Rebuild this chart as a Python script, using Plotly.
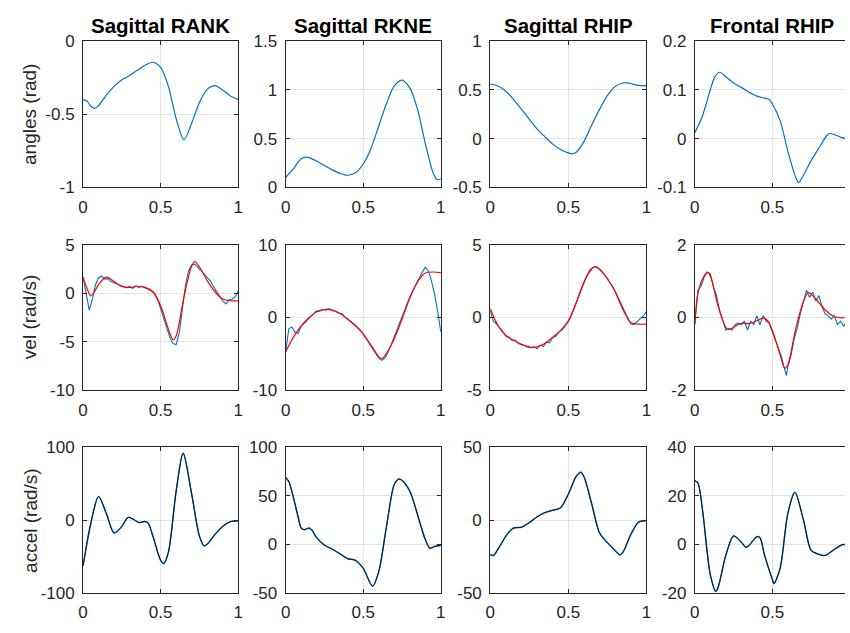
import plotly.graph_objects as go

W, H = 850, 633
BLUE = "#0072BD"
RED = "#FF0000"
INK = "#262626"
GRID = "#e3e3e3"
FONT = "Liberation Sans, Arial, Helvetica, sans-serif"

titles = ["Sagittal RANK", "Sagittal RKNE", "Sagittal RHIP", "Frontal RHIP"]
row_labels = ["angles (rad)", "vel (rad/s)", "accel (rad/s)"]

# ---------------- Row 1: angles ----------------
ank_ang_x = [0, 0.025, 0.05, 0.075, 0.1, 0.15, 0.2, 0.25, 0.3, 0.35, 0.4, 0.45, 0.5, 0.55, 0.6, 0.65, 0.7, 0.75, 0.8, 0.85, 0.9, 0.95, 1.0]
ank_ang_y = [-0.40, -0.41, -0.445, -0.46, -0.44, -0.37, -0.31, -0.265, -0.235, -0.20, -0.165, -0.145, -0.18, -0.31, -0.53, -0.675, -0.56, -0.42, -0.33, -0.305, -0.335, -0.375, -0.40]

kne_ang_x = [0, 0.025, 0.05, 0.075, 0.1, 0.13, 0.15, 0.2, 0.25, 0.3, 0.35, 0.4, 0.45, 0.5, 0.55, 0.6, 0.65, 0.7, 0.75, 0.8, 0.85, 0.9, 0.95, 0.975, 1.0]
kne_ang_y = [0.10, 0.15, 0.19, 0.25, 0.295, 0.31, 0.305, 0.27, 0.225, 0.18, 0.145, 0.125, 0.15, 0.24, 0.40, 0.63, 0.86, 1.04, 1.10, 1.02, 0.80, 0.45, 0.15, 0.08, 0.09]

hip_ang_x = [0, 0.05, 0.1, 0.15, 0.2, 0.25, 0.3, 0.35, 0.4, 0.45, 0.5, 0.53, 0.55, 0.6, 0.65, 0.7, 0.75, 0.8, 0.85, 0.88, 0.9, 0.95, 1.0]
hip_ang_y = [0.56, 0.54, 0.485, 0.40, 0.30, 0.20, 0.10, 0.02, -0.056, -0.11, -0.146, -0.155, -0.14, -0.03, 0.14, 0.30, 0.44, 0.535, 0.57, 0.572, 0.565, 0.545, 0.54]

fhip_ang_x = [0, 0.05, 0.1, 0.13, 0.16, 0.2, 0.25, 0.3, 0.35, 0.4, 0.45, 0.48, 0.5, 0.55, 0.6, 0.65, 0.67, 0.7, 0.75, 0.8, 0.85, 0.87, 0.9, 0.95, 0.97]
fhip_ang_y = [0.012, 0.047, 0.10, 0.127, 0.136, 0.127, 0.114, 0.105, 0.095, 0.087, 0.083, 0.08, 0.071, 0.037, -0.026, -0.079, -0.09, -0.075, -0.045, -0.019, 0.006, 0.011, 0.008, 0.002, 0.0]

# ---------------- Row 2: velocities ----------------
vel_x = [i / 50 for i in range(51)]

ank_vel_raw = [1.66, -0.2, -1.75, -0.6, 0.9, 1.6, 1.75, 1.45, 1.5, 1.2, 1.1, 0.95, 0.8, 0.7, 0.55, 0.7, 0.5, 0.75, 0.6, 0.7,
               0.55, 0.45, 0.25, 0.0, -0.6, -1.6, -2.6, -3.7, -4.6, -5.2, -5.3, -4.1, -1.6, 0.8, 2.3, 2.9, 3.0, 2.7, 2.4, 2.0,
               1.6, 1.3, 0.7, 0.2, -0.3, -0.8, -1.1, -0.7, -0.6, -0.4, 0.25]
ank_vel_fit_x = [0, 0.025, 0.05, 0.075, 0.1, 0.15, 0.2, 0.25, 0.3, 0.35, 0.4, 0.45, 0.5, 0.55, 0.58, 0.6, 0.65, 0.7, 0.72, 0.75, 0.8, 0.85, 0.9, 0.95, 1.0]
ank_vel_fit_y = [1.66, 0.5, -0.28, 0.2, 0.9, 1.66, 1.2, 0.7, 0.6, 0.72, 0.6, 0.15, -1.3, -3.7, -4.8, -4.4, -0.4, 2.8, 3.25, 2.7, 1.3, 0.15, -0.6, -0.78, -0.78]

kne_vel_raw = [-4.7, -1.6, -1.3, -2.0, -2.2, -1.2, -0.8, -0.3, 0.1, 0.5, 0.9, 0.85, 1.1, 1.0, 1.2, 0.95, 0.85, 0.6, 0.55, 0.1,
               -0.2, -0.5, -0.9, -1.3, -1.7, -2.3, -2.9, -3.6, -4.3, -5.0, -5.6, -5.9, -5.6, -4.8, -3.7, -2.8, -1.7, -0.5, 0.6, 1.7,
               2.8, 3.7, 4.6, 5.4, 6.2, 6.9, 6.4, 5.0, 3.2, 0.8, -2.0]
kne_vel_fit_x = [0, 0.05, 0.1, 0.15, 0.2, 0.25, 0.3, 0.35, 0.4, 0.45, 0.5, 0.55, 0.6, 0.62, 0.65, 0.7, 0.75, 0.8, 0.85, 0.9, 0.95, 1.0]
kne_vel_fit_y = [-4.7, -2.7, -1.15, -0.05, 0.78, 1.09, 1.0, 0.55, -0.24, -1.14, -2.25, -3.8, -5.37, -5.68, -4.92, -2.92, -0.24, 2.65, 4.88, 6.1, 6.25, 6.15]

hip_vel_raw = [0.45, -0.25, -0.45, -0.7, -0.95, -1.3, -1.35, -1.6, -1.55, -1.8, -1.85, -1.95, -2.05, -2.1, -2.0, -2.15, -1.9, -2.0, -1.7, -1.75,
               -1.4, -1.3, -1.0, -0.85, -0.6, -0.3, 0.15, 0.7, 1.3, 1.9, 2.45, 2.9, 3.3, 3.45, 3.5, 3.3, 3.1, 2.85, 2.5, 2.2,
               1.8, 1.4, 0.9, 0.45, 0.0, -0.45, -0.5, -0.3, -0.1, 0.1, 0.4]
hip_vel_fit_x = [0, 0.05, 0.1, 0.15, 0.2, 0.25, 0.28, 0.3, 0.35, 0.4, 0.45, 0.5, 0.55, 0.6, 0.65, 0.67, 0.7, 0.75, 0.8, 0.85, 0.9, 0.95, 1.0]
hip_vel_fit_y = [0.61, -0.57, -1.24, -1.57, -1.84, -2.02, -2.06, -2.02, -1.79, -1.35, -0.9, -0.23, 1.0, 2.44, 3.33, 3.49, 3.33, 2.66, 1.77, 0.55, -0.35, -0.46, -0.46]

fhip_vel_raw_x = [0, 0.02, 0.04, 0.06, 0.08, 0.1, 0.12, 0.14, 0.16, 0.18, 0.2, 0.22, 0.24, 0.26, 0.28, 0.3, 0.32, 0.34, 0.36, 0.38,
                  0.4, 0.42, 0.44, 0.46, 0.48, 0.5, 0.52, 0.54, 0.56, 0.58, 0.59, 0.6, 0.62, 0.64, 0.66, 0.68, 0.7, 0.72, 0.74, 0.76,
                  0.78, 0.8, 0.82, 0.84, 0.86, 0.88, 0.9, 0.92, 0.94, 0.96, 0.97]
fhip_vel_raw = [-0.2, 0.75, 0.85, 1.1, 1.25, 1.2, 0.85, 0.6, 0.2, -0.1, -0.35, -0.3, -0.35, -0.2, -0.15, -0.2, -0.1, -0.35, -0.1, -0.2,
                0.05, -0.2, 0.05, -0.1, -0.15, -0.4, -0.6, -0.85, -1.1, -1.45, -1.6, -1.35, -1.05, -0.6, -0.3, 0.1, 0.45, 0.75, 0.55, 0.7,
                0.45, 0.6, 0.3, 0.1, 0.05, -0.05, 0.05, -0.2, -0.1, -0.25, -0.15]
fhip_vel_fit_x = [0, 0.02, 0.05, 0.08, 0.1, 0.15, 0.2, 0.22, 0.25, 0.3, 0.35, 0.4, 0.44, 0.47, 0.5, 0.55, 0.58, 0.6, 0.65, 0.7, 0.73, 0.75, 0.8, 0.85, 0.9, 0.95, 0.97]
fhip_vel_fit_y = [-0.18, 0.66, 1.06, 1.24, 1.15, 0.31, -0.27, -0.33, -0.27, -0.16, -0.17, -0.09, -0.02, -0.09, -0.36, -1.03, -1.40, -1.30, -0.32, 0.44, 0.68, 0.64, 0.41, 0.17, 0.02, -0.01, 0.0]

# ---------------- Row 3: accelerations ----------------
ank_acc_x = [0, 0.05, 0.1, 0.15, 0.2, 0.25, 0.29, 0.33, 0.36, 0.4, 0.42, 0.45, 0.5, 0.52, 0.55, 0.6, 0.645, 0.7, 0.75, 0.78, 0.8, 0.85, 0.9, 0.95, 1.0]
ank_acc_y = [-62.7, -4.2, 32.6, 9.1, -17.5, -8.6, 3.8, 0.5, -3.3, -2.0, -4.2, -21.9, -55.2, -59.6, -44.1, 40.1, 92.0, 35.7, -21.9, -35.3, -33.0, -19.7, -8.6, -2.0, -0.7]

kne_acc_x = [0, 0.02, 0.05, 0.08, 0.1, 0.12, 0.15, 0.17, 0.2, 0.25, 0.3, 0.35, 0.4, 0.45, 0.5, 0.56, 0.6, 0.65, 0.7, 0.73, 0.75, 0.8, 0.866, 0.9, 0.93, 0.96, 1.0]
kne_acc_y = [69.1, 65.0, 48.5, 28.5, 16.9, 15.2, 16.9, 14.5, 6.9, -0.8, -4.8, -9.7, -14.7, -16.4, -24.7, -43.0, -28.0, 18.6, 61.8, 67.4, 66.0, 55.0, 22.0, 5.0, -4.0, -2.0, -1.0]

hip_acc_x = [0, 0.02, 0.05, 0.1, 0.13, 0.15, 0.2, 0.25, 0.3, 0.35, 0.4, 0.45, 0.5, 0.55, 0.58, 0.6, 0.65, 0.7, 0.75, 0.8, 0.83, 0.85, 0.9, 0.95, 1.0]
hip_acc_y = [-23.6, -24.3, -19.8, -11.0, -7.0, -5.4, -4.8, -1.7, 2.3, 5.2, 6.8, 8.5, 17.8, 30.0, 32.9, 30.0, 11.2, -8.7, -15.4, -20.9, -23.8, -22.1, -9.9, -1.4, -0.3]

fhip_acc_x = [0, 0.02, 0.05, 0.08, 0.1, 0.135, 0.15, 0.2, 0.25, 0.3, 0.33, 0.35, 0.4, 0.42, 0.45, 0.5, 0.51, 0.55, 0.6, 0.645, 0.7, 0.75, 0.8, 0.83, 0.85, 0.9, 0.95, 0.97]
fhip_acc_y = [26.3, 25.4, 14.1, -3.2, -12.5, -19.4, -17.8, -4.5, 3.5, 0.9, -1.2, -0.4, 3.2, 2.8, -4.5, -14.5, -16.2, -9.8, 12.8, 21.5, 10.2, -2.4, -4.1, -4.6, -4.3, -2.0, -0.1, 0.0]

# ---------------- axis settings ----------------
x_ticks = [0, 0.5, 1]
x_ticktext = ["0", "0.5", "1"]
y_ticks = [
    [[-1, -0.5, 0], [0, 0.5, 1, 1.5], [-0.5, 0, 0.5, 1], [-0.1, 0, 0.1, 0.2]],
    [[-10, -5, 0, 5], [-10, 0, 10], [-5, 0, 5], [-2, 0, 2]],
    [[-100, 0, 100], [-50, 0, 50, 100], [-50, 0, 50], [-20, 0, 20, 40]],
]
y_ticktext = [
    [["-1", "-0.5", "0"], ["0", "0.5", "1", "1.5"], ["-0.5", "0", "0.5", "1"], ["-0.1", "0", "0.1", "0.2"]],
    [["-10", "-5", "0", "5"], ["-10", "0", "10"], ["-5", "0", "5"], ["-2", "0", "2"]],
    [["-100", "0", "100"], ["-50", "0", "50", "100"], ["-50", "0", "50"], ["-20", "0", "20", "40"]],
]

col_px = [(79, 236), (284, 441), (491, 649), (698, 850)]
row_px = [(33, 184), (243, 393), (452, 602)]
x_range_end = [1, 1, 1, (850 - 698) / 157]

fig = go.Figure()
layout = dict(
    width=W, height=H, margin=dict(l=0, r=0, t=0, b=0),
    paper_bgcolor="white", plot_bgcolor="white", showlegend=False,
    font=dict(family=FONT, size=17, color=INK),
)

ACC_INK = "#0b1626"
rows_data = [
    [[(ank_ang_x, ank_ang_y, BLUE, 1.2, "spline")],
     [(kne_ang_x, kne_ang_y, BLUE, 1.2, "spline")],
     [(hip_ang_x, hip_ang_y, BLUE, 1.2, "spline")],
     [(fhip_ang_x, fhip_ang_y, BLUE, 1.2, "spline")]],
    [[(vel_x, ank_vel_raw, BLUE, 1.1, "linear"), (ank_vel_fit_x, ank_vel_fit_y, RED, 1.2, "spline")],
     [(vel_x, kne_vel_raw, BLUE, 1.1, "linear"), (kne_vel_fit_x, kne_vel_fit_y, RED, 1.2, "spline")],
     [(vel_x, hip_vel_raw, BLUE, 1.1, "linear"), (hip_vel_fit_x, hip_vel_fit_y, RED, 1.2, "spline")],
     [(fhip_vel_raw_x, fhip_vel_raw, BLUE, 1.1, "linear"), (fhip_vel_fit_x, fhip_vel_fit_y, RED, 1.2, "spline")]],
    [[(ank_acc_x, ank_acc_y, BLUE, 1.5, "spline"), (ank_acc_x, ank_acc_y, ACC_INK, 1.0, "spline")],
     [(kne_acc_x, kne_acc_y, BLUE, 1.5, "spline"), (kne_acc_x, kne_acc_y, ACC_INK, 1.0, "spline")],
     [(hip_acc_x, hip_acc_y, BLUE, 1.5, "spline"), (hip_acc_x, hip_acc_y, ACC_INK, 1.0, "spline")],
     [(fhip_acc_x, fhip_acc_y, BLUE, 1.5, "spline"), (fhip_acc_x, fhip_acc_y, ACC_INK, 1.0, "spline")]],
]

annotations = []
k = 0
for r in range(3):
    for c in range(4):
        k += 1
        xa = "x" if k == 1 else f"x{k}"
        ya = "y" if k == 1 else f"y{k}"
        for (xs, ys, col, wd, shp) in rows_data[r][c]:
            fig.add_trace(go.Scatter(x=xs, y=ys, mode="lines", xaxis=xa, yaxis=ya,
                                     line=dict(color=col, width=wd, shape=shp, smoothing=0.8),
                                     hoverinfo="skip"))
        x0, x1 = col_px[c]
        yt, yb = row_px[r]
        yv = y_ticks[r][c]
        common = dict(
            showline=True, linecolor=INK, linewidth=1,
            ticks="inside", ticklen=4, tickcolor=INK, tickwidth=1,
            showgrid=True, gridcolor=GRID, gridwidth=1, zeroline=False,
            tickfont=dict(family=FONT, size=17, color=INK),
            fixedrange=True,
        )
        layout[("xaxis" if k == 1 else f"xaxis{k}")] = dict(
            common, domain=[x0 / W, x1 / W], range=[0, x_range_end[c]],
            tickvals=x_ticks, ticktext=x_ticktext, anchor=ya,
            mirror="ticks", ticklabelstandoff=4,
        )
        layout[("yaxis" if k == 1 else f"yaxis{k}")] = dict(
            common, domain=[1 - yb / H, 1 - yt / H], range=[yv[0], yv[-1]],
            tickvals=yv, ticktext=y_ticktext[r][c], anchor=xa,
            mirror=("ticks" if c < 3 else False), ticklabelstandoff=4,
        )

for c in range(4):
    x0, x1 = col_px[c]
    cx = (x0 + (x0 + 157)) / 2 if c == 3 else (x0 + x1) / 2
    annotations.append(dict(text=f"<b>{titles[c]}</b>", x=cx / W, y=1 - 17.5 / H, xref="paper", yref="paper",
                            xanchor="center", yanchor="middle", showarrow=False,
                            font=dict(family=FONT, size=20.5, color="black")))
for r in range(3):
    yt, yb = row_px[r]
    annotations.append(dict(text=row_labels[r], x=25 / W, y=1 - ((yt + yb) / 2) / H, xref="paper", yref="paper",
                            xanchor="center", yanchor="middle", showarrow=False, textangle=-90,
                            font=dict(family=FONT, size=19, color=INK)))

layout["annotations"] = annotations
fig.update_layout(**layout)
fig.write_html("out.html")
